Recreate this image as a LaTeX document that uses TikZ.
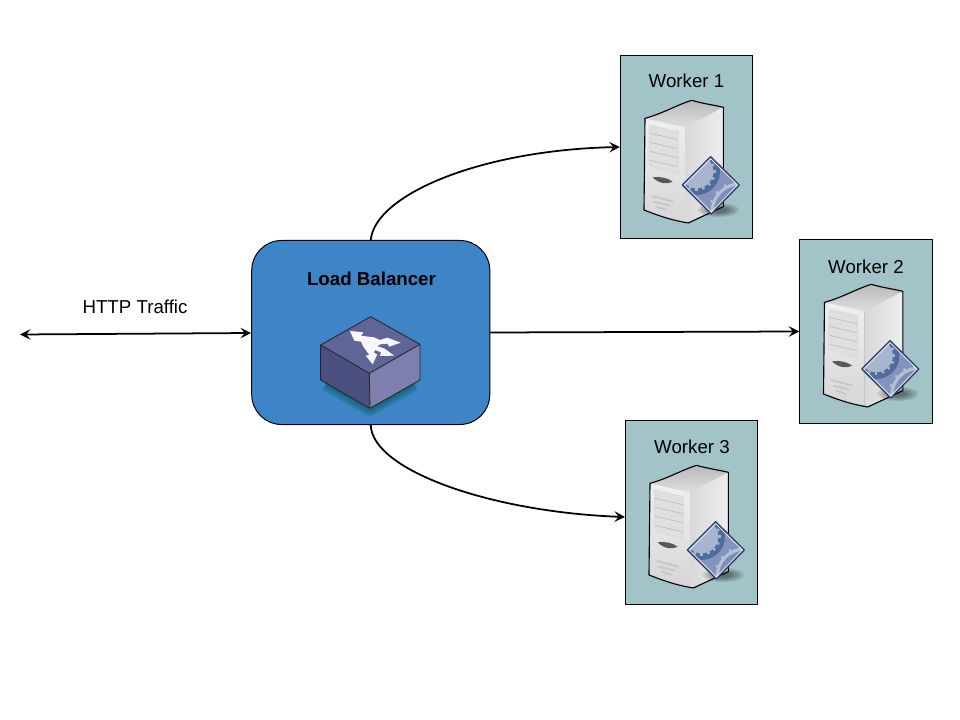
\documentclass[tikz,border=0pt]{standalone}
\usepackage{fontspec}
\setmainfont{Liberation Sans}
\usetikzlibrary{arrows.meta, shapes.geometric, positioning}
\definecolor{boxteal}{HTML}{A2C4C9}
\definecolor{lbblue}{HTML}{3D85C6}
\definecolor{cubetop}{HTML}{5F6596}
\definecolor{cubeleft}{HTML}{4B5080}
\definecolor{cuberight}{HTML}{7F7FAE}
\definecolor{gearlight}{HTML}{A8B5CF}
\definecolor{gearmid}{HTML}{8294BA}
\definecolor{geardark}{HTML}{4F6C9C}
\definecolor{gearedge}{HTML}{343B68}

\tikzset{
    worker/.style={rectangle, minimum width=3.31cm, minimum height=4.585cm, draw=black, fill=boxteal, line width=0.7pt},
    balancer/.style={rectangle, rounded corners=0.75cm, minimum width=5.95cm, minimum height=4.6cm, draw=black, fill=lbblue, line width=0.7pt},
    boxtext/.style={font=\fontsize{13.3}{15}\selectfont, inner sep=0pt},
    link/.style={>={Stealth[length=7.5pt, width=7.5pt, inset=3pt]}, line width=1.25pt, black},
    % server tower with the gear badge, drawn in 3x pixels from the box corner
    pics/servericon/.style={code={
        \begin{scope}[scale=0.3333, line join=round]
        \shade[top color=gray!55, bottom color=gray!25]
            (75,205) .. controls (130,190) and (170,165) .. (215,151) .. controls (245,160) and (280,165) .. (310,172) -- (195,232) -- cycle;
        \shade[top color=gray!12, bottom color=gray!32]
            (75,205) -- (195,232) -- (195,518) .. controls (150,510) and (110,495) .. (72,480) -- cycle;
        \shade[left color=gray!30, right color=gray!14]
            (195,232) -- (310,172) -- (310,470) -- (205,519) -- (195,518) -- cycle;
        \draw[line width=0.8pt] (75,205) .. controls (130,190) and (170,165) .. (215,151) .. controls (245,160) and (280,165) .. (310,172)
            -- (310,470) -- (205,519) .. controls (150,510) and (110,495) .. (72,480) -- cycle;
        \fill[gray!25, draw=white!70!gray, line width=0.5pt] (88,225) -- (175,245) -- (175,372) -- (88,347) -- cycle;
        \foreach \ly in {250,277,304,331} {
            \draw[gray!60, line width=0.35pt] (90,\ly) -- (172,\ly+19);
        }
        \fill[black!65] (98,382) .. controls (120,378) and (145,385) .. (158,395) .. controls (140,405) and (115,400) .. (98,382) -- cycle;
        \draw[gray!45, line width=1.2pt] (95,438) -- (160,455);
        \draw[gray!45, line width=1.2pt] (100,455) -- (150,467);
        \draw[gray!45, line width=1.2pt] (110,470) -- (140,480);
        \foreach \rr in {1,0.85,0.7,0.55,0.4} {
            \fill[black, opacity=0.1] (295,480) ellipse ({62*\rr} and {21*\rr});
        }
        \begin{scope}
            \clip (272,320) -- (358,405) -- (274,492) -- (187,405) -- cycle;
            \fill[gearmid] (180,315) rectangle (365,495);
            \fill[geardark] (230,365) circle (70);
            \fill[gearlight] (230,365) circle (50);
            \foreach \a in {0,22.5,...,337.5} {
                \draw[gearlight, line width=1.7pt] (230,365) ++(\a:46) -- ++(\a:11);
            }
            \fill[gearlight!85!white] (360,485) circle (88);
            \fill[gearmid!85!geardark] (360,485) circle (78);
            \foreach \a in {180,200,...,280} {
                \draw[gearlight!85!white, line width=1.5pt] (360,485) ++(\a:85) -- ++(\a:9);
            }
        \end{scope}
        \draw[gearedge, line width=0.9pt] (272,320) -- (358,405) -- (274,492) -- (187,405) -- cycle;
        \draw[white!75!gearlight, line width=0.5pt] (272,326) -- (352,405) -- (274,486) -- (193,405) -- cycle;
        \end{scope}
    }},
    % isometric switch box with the white routing arrows
    pics/switchicon/.style={code={
        \begin{scope}[scale=0.3333, line join=round]
        \foreach \w in {11,8,5,2.5} {
            \draw[teal!70!black, opacity=0.22, line width=\w pt] (80,235) -- (210,310) -- (342,235);
        }
        \fill[cubeleft] (62,120) -- (208,205) -- (210,310) -- (62,225) -- cycle;
        \fill[cuberight] (360,118) -- (208,205) -- (210,310) -- (360,225) -- cycle;
        \fill[cubetop] (212,35) -- (360,118) -- (208,205) -- (62,120) -- cycle;
        \draw[black!85, line width=0.6pt] (212,35) -- (360,118) -- (360,225) -- (210,310) -- (62,225) -- (62,120) -- cycle;
        \draw[black!85, line width=0.6pt] (62,120) -- (208,205) -- (360,118) (208,205) -- (210,310);
        \fill[white!95!cubetop] (150,78) -- (190,82) -- (183,92) -- (205,95) -- (222,97) -- (240,105) -- (262,98)
            -- (302,113) -- (268,125) -- (262,116) -- (240,118) -- (232,124) -- (252,130) -- (283,152)
            -- (240,153) -- (243,142) -- (225,135) -- (222,143) -- (232,148) -- (218,178) -- (197,152) -- (208,150)
            -- (190,125) -- (183,110) -- (163,107) -- cycle;
        \end{scope}
    }}
}

\begin{document}
\begin{tikzpicture}[x=0.025cm, y=-0.025cm]

\path[use as bounding box, fill=white] (0,0) rectangle (960,720);

% Load balancer
\node[balancer] (lb) at (370.75,332.5) {};
\node[boxtext, font=\fontsize{13.3}{15}\selectfont\bfseries] (lbtitle) at (371.5,279) {Load Balancer};
\pic at (300,305) {switchicon};

% Workers
\node[worker] (worker1) at (686.5,147) {};
\node[worker] (worker2) at (866,331.5) {};
\node[worker] (worker3) at (691.5,512.5) {};
\node[boxtext] (title1) at (686.5,81) {Worker 1};
\node[boxtext] (title2) at (866,267) {Worker 2};
\node[boxtext] (title3) at (692,447) {Worker 3};
\pic at (620,50) {servericon};
\pic at (799.5,234) {servericon};
\pic at (625,415) {servericon};

% Traffic
\coordinate (client) at (20,334.5);
\coordinate (lbin) at (251,333);
\coordinate (worker3in) at (625,517);
\node[boxtext] (traffic) at (135,307) {HTTP Traffic};

% Arrows
\draw[link, <->] (client) -- (lbin);
\draw[link, ->] (lb.north) .. controls (375,195) and (480,150) .. (worker1.west);
\draw[link, ->] (lb.east) -- (worker2.west);
\draw[link, ->] (lb.south) .. controls (372,470) and (490,512) .. (worker3in);

\end{tikzpicture}
\end{document}
